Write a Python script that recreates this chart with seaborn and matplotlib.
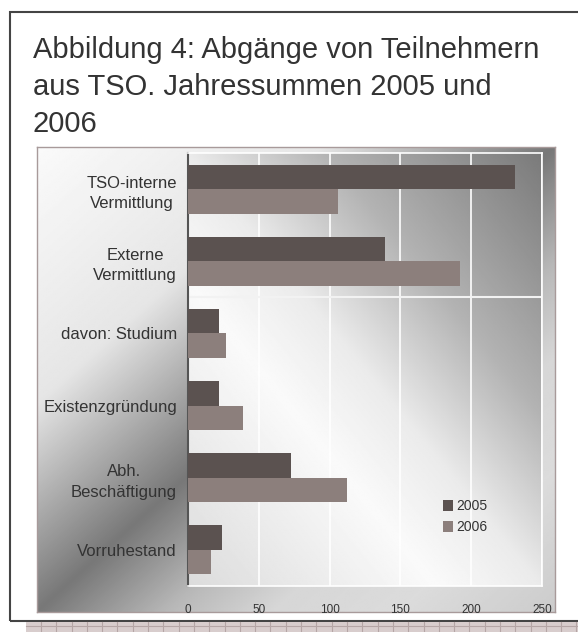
import numpy as np
import pandas as pd
import seaborn as sns
import matplotlib.pyplot as plt
from matplotlib.patches import Rectangle
from matplotlib.lines import Line2D

# data
categories = ["TSO-interne\nVermittlung", "Externe\nVermittlung", "davon: Studium",
              "Existenzgründung", "Abh.\nBeschäftigung", "Vorruhestand"]
values_2005 = [231, 139, 22, 22, 73, 24]
values_2006 = [106, 192, 27, 39, 112, 16]
years = ["2005", "2006"]
colors = ["#5b5250", "#8c7f7c"]
xticks = [0, 50, 100, 150, 200, 250]

df = pd.DataFrame({
    "Kategorie": categories * 2,
    "Wert": values_2005 + values_2006,
    "Jahr": [years[0]] * len(categories) + [years[1]] * len(categories),
})

W, H = 578, 632
fig = plt.figure(figsize=(W / 100, H / 100), dpi=100)
fig.patch.set_facecolor("white")


def px(x0, y0, x1, y1):
    # pixel box (top-left origin) -> figure fraction rect
    return [x0 / W, 1 - y1 / H, (x1 - x0) / W, (y1 - y0) / H]


# outer frame and page strip at the bottom
fig.patches.append(Rectangle((10 / W, 1 - 621 / H), 600 / W, 609 / H, transform=fig.transFigure,
                             fill=False, edgecolor="#444444", lw=1.5, zorder=0))
fig.patches.append(Rectangle((26 / W, 0), 1, 10 / H, transform=fig.transFigure,
                             facecolor="#d8cdcd", edgecolor="none", zorder=0))
fig.lines.append(Line2D([26 / W, 1], [1 - 626 / H] * 2, transform=fig.transFigure,
                        color="#b5a6a6", lw=0.8))
for xp in np.arange(41, W, 15.3):
    fig.lines.append(Line2D([xp / W] * 2, [0, 10 / H], transform=fig.transFigure,
                            color="#b5a6a6", lw=0.8))

# title
fig.text(33 / W, 1 - 36 / H, "Abbildung 4: Abgänge von Teilnehmern\naus TSO. Jahressummen 2005 und\n2006",
         ha="left", va="top", fontsize=21, family="Liberation Sans", color="#333333",
         linespacing=1.42)

# chart box background gradient
bg = fig.add_axes(px(37, 147, 555, 612))
u, v = np.meshgrid(np.linspace(0, 1, 300), np.linspace(1, 0, 300))
d = v - u
shade = np.interp(d, [-1, -0.7, -0.45, -0.25, 0, 0.2, 0.45, 1],
                  [0.80, 0.86, 0.84, 0.72, 0.47, 0.66, 0.9, 0.98])
bg.imshow(shade, cmap="gray", vmin=0, vmax=1, extent=[0, 1, 0, 1], aspect="auto")
bg.set_xticks([])
bg.set_yticks([])
for s in bg.spines.values():
    s.set_color("#a89a9a")
    s.set_linewidth(1)

# plot area gradient
pa = fig.add_axes(px(188, 153, 542, 586))
x, y = np.meshgrid(np.linspace(0, 1, 300), np.linspace(1, 0, 300))
sm = x + y
shade2 = np.interp(sm, [0, 0.7, 1.0, 1.4, 2.0], [0.86, 0.98, 0.92, 0.70, 0.48])
pa.imshow(shade2, cmap="gray", vmin=0, vmax=1, extent=[0, 1, 0, 1], aspect="auto")
pa.axis("off")

ax = fig.add_axes(px(188, 153, 542, 586))
ax.set_facecolor("none")
sns.barplot(data=df, x="Wert", y="Kategorie", hue="Jahr", palette=colors, orient="h",
            width=0.68, linewidth=0, saturation=1, ax=ax, zorder=3)

ax.set_xlim(0, 250)
ax.set_ylim(5.5, -0.5)
ax.set_xticks(xticks)
ax.grid(axis="x", color="white", lw=1.2, zorder=1)
ax.set_axisbelow(True)
ax.axhline(1.5, color="#f2f2f2", lw=1.5, zorder=1)
ax.set_xlabel("")
ax.set_ylabel("")
ax.tick_params(axis="both", length=0, colors="#333333")
ax.tick_params(axis="x", pad=13, labelsize=8.5)
ax.tick_params(axis="y", pad=8, labelsize=12)
for lab in ax.get_xticklabels() + ax.get_yticklabels():
    lab.set_family("Liberation Sans")
for lab in ax.get_yticklabels():
    lab.set_multialignment("center")
    lab.set_linespacing(1.45)
ax.spines["left"].set_color("#555555")
ax.spines["left"].set_linewidth(1.5)
for side in ["top", "bottom", "right"]:
    ax.spines[side].set_color("white")
    ax.spines[side].set_linewidth(1.2)

leg = ax.legend(loc="upper left", bbox_to_anchor=(0.72, 0.2), frameon=False,
                handlelength=0.75, handleheight=0.75, handletextpad=0.2,
                labelspacing=0.5, borderpad=0, borderaxespad=0,
                prop={"family": "Liberation Sans", "size": 10})
for t in leg.get_texts():
    t.set_color("#333333")

fig.savefig("out.png", dpi=100)
